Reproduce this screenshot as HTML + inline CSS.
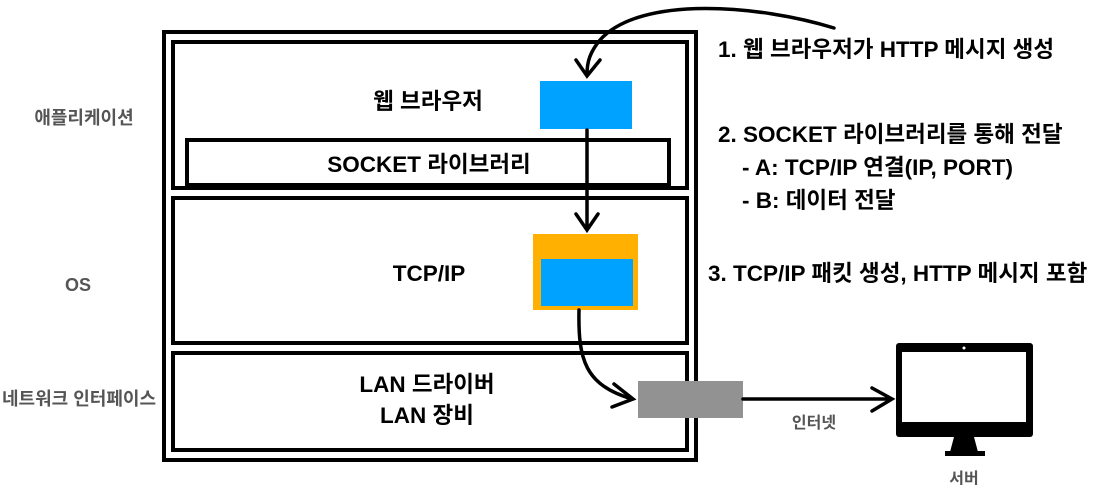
<!DOCTYPE html>
<html><head><meta charset="utf-8"><style>
html,body{margin:0;padding:0;background:#fff;}
svg{display:block;}
text{font-family:"Liberation Sans","Noto Sans CJK KR",sans-serif;}
</style></head><body>
<svg width="1115" height="485" viewBox="0 0 1115 485" xmlns="http://www.w3.org/2000/svg">
<rect x="164" y="32" width="532" height="428" fill="none" stroke="#000" stroke-width="4"/>
<rect x="173" y="42" width="514" height="146" fill="none" stroke="#000" stroke-width="4"/>
<rect x="173" y="198" width="514" height="145" fill="none" stroke="#000" stroke-width="4"/>
<rect x="173" y="353" width="514" height="97" fill="none" stroke="#000" stroke-width="4"/>
<rect x="187" y="140" width="482" height="45" fill="none" stroke="#000" stroke-width="4"/>
<rect x="540" y="81" width="92" height="48" fill="#00a2ff"/>
<rect x="533" y="234" width="105" height="76" fill="#ffb000"/>
<rect x="541" y="259" width="92" height="47" fill="#00a2ff"/>
<rect x="638" y="381" width="105" height="37" fill="#929292"/>
<g font-size="22.5" font-weight="bold" fill="#000" text-anchor="middle">
<text x="428" y="109">웹 브라우저</text>
<text x="429" y="172">SOCKET 라이브러리</text>
<text x="429" y="281">TCP/IP</text>
<text x="427" y="392">LAN 드라이버</text>
<text x="427" y="423">LAN 장비</text>
</g>
<g font-size="18" text-anchor="middle" fill="#555" font-weight="bold">
<text x="84" y="124">애플리케이션</text>
<text x="78" y="291">OS</text>
<text x="79" y="405">네트워크 인터페이스</text>
<text x="814" y="428" font-size="16">인터넷</text>
<text x="964" y="484" font-size="16">서버</text>
</g>
<g font-size="22.5" font-weight="bold" fill="#000">
<text x="718" y="57">1. 웹 브라우저가 HTTP 메시지 생성</text>
<text x="718" y="142">2. SOCKET 라이브러리를 통해 전달</text>
<text x="742" y="175">- A: TCP/IP 연결(IP, PORT)</text>
<text x="742" y="208">- B: 데이터 전달</text>
<text x="708" y="281">3. TCP/IP 패킷 생성, HTTP 메시지 포함</text>
</g>
<g fill="none" stroke="#000" stroke-width="3.5" stroke-linecap="round">
<path d="M834 28 C760 5 640 -5 600 40 C590 52 587 62 587 74"/>
<path d="M576 60 L587 76 L600 60"/>
<path d="M587 130 L587 228"/>
<path d="M576 214 L587 230 L598 214"/>
<path d="M579 310 C578 360 585 385 632 399"/>
<path d="M614 384 L633 399 L612 407"/>
<path d="M743 399 L890 399"/>
<path d="M872 388 L892 399 L872 411"/>
</g>
<rect x="896" y="343" width="137" height="94" rx="3" fill="#000"/>
<rect x="902" y="352" width="124" height="70" fill="#fff"/>
<circle cx="964" cy="348" r="1.5" fill="#fff"/>
<path d="M954 437 L974 437 L978 452 L950 452 Z" fill="#000"/>
<rect x="945" y="451" width="40" height="5" fill="#000"/>
</svg>
</body></html>
